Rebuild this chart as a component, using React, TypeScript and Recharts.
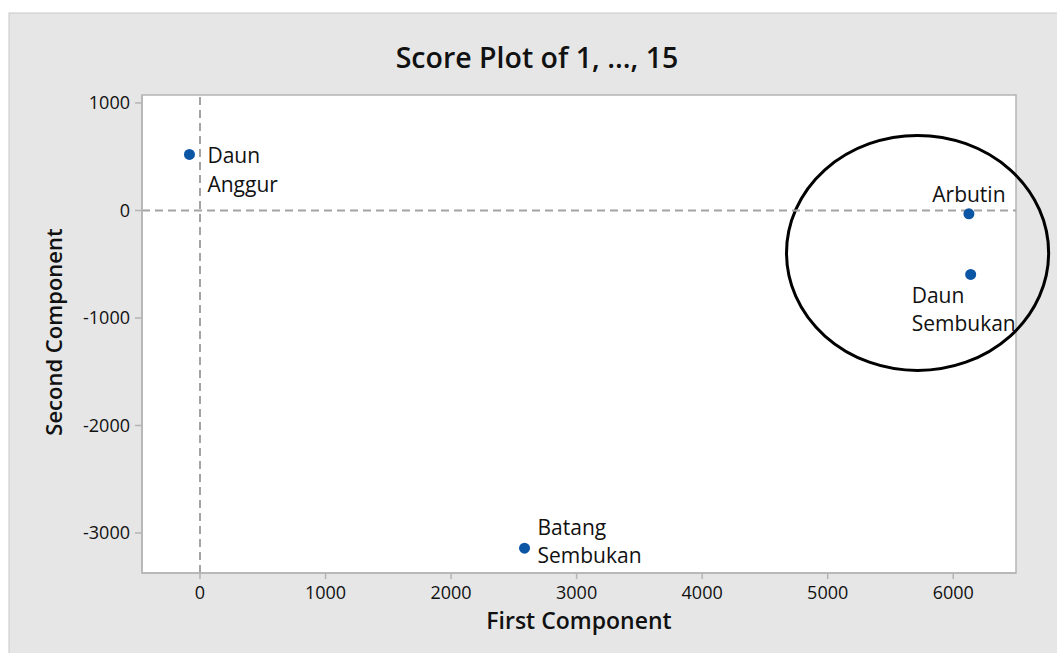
import React from 'react';
import {
  ScatterChart,
  Scatter,
  XAxis,
  YAxis,
  ReferenceLine,
  ReferenceArea,
  CartesianGrid,
} from 'recharts';

// ---- data ----
const sampleNames = ['Daun Anggur', 'Batang Sembukan', 'Arbutin', 'Daun Sembukan'];
const firstComponent = [-84, 2585, 6125, 6139];
const secondComponent = [521, -3141, -31, -595];

const xTicks = [0, 1000, 2000, 3000, 4000, 5000, 6000];
const yTicks = [-3000, -2000, -1000, 0, 1000];
const xDomain = [-462, 6500];
const yDomain = [-3372, 1074];

// highlighted cluster (data units): x range and y range of the ring
const ringX = [4672, 6760];
const ringY = [-1488, 698];

const chartTitle = 'Score Plot of 1, ..., 15';
const xTitle = 'First Component';
const yTitle = 'Second Component';

const scores = sampleNames.map((name, i) => ({
  name,
  x: firstComponent[i],
  y: secondComponent[i],
}));

// label placement (style only)
const labelStyle: Record<string, { dx: number; dy: number; lh: number; anchor: 'start' | 'middle' }> = {
  'Daun Anggur': { dx: 18, dy: 9, lh: 28.5, anchor: 'start' },
  'Batang Sembukan': { dx: 13, dy: -13, lh: 28, anchor: 'start' },
  Arbutin: { dx: 0, dy: -12, lh: 28, anchor: 'middle' },
  'Daun Sembukan': { dx: -59, dy: 29, lh: 28, anchor: 'start' },
};

const FONT = '"Open Sans", "Noto Sans", sans-serif';
const AXIS_GRAY = '#b4b4b4';

const PointShape = (props: any) => {
  const { cx, cy, payload } = props;
  const st = labelStyle[payload.name];
  const words = payload.name.split(' ');
  const lx = cx + st.dx;
  return (
    <g>
      <circle cx={cx} cy={cy} r={5.5} fill="#0b55a5" />
      <text
        x={lx}
        y={cy + st.dy}
        textAnchor={st.anchor}
        fontFamily={FONT}
        fontSize={21}
        fill="#111"
      >
        {words.map((w: string, i: number) => (
          <tspan key={i} x={lx} dy={i === 0 ? 0 : st.lh}>
            {w}
          </tspan>
        ))}
      </text>
    </g>
  );
};

const RingShape = (props: any) => {
  const { x, y, width, height } = props;
  return (
    <ellipse
      cx={x + width / 2}
      cy={y + height / 2}
      rx={Math.abs(width) / 2}
      ry={Math.abs(height) / 2}
      fill="none"
      stroke="#000"
      strokeWidth={3}
    />
  );
};

const FrameShape = (props: any) => {
  const { x, y, width, height } = props;
  return <rect x={x} y={y} width={width} height={height} fill="none" stroke={AXIS_GRAY} strokeWidth={1.5} />;
};

const YTitle = (props: any) => {
  const { viewBox } = props;
  const cy = viewBox.y + viewBox.height / 2 - 2;
  const bx = 62;
  return (
    <text
      x={bx}
      y={cy}
      transform={`rotate(-90, ${bx}, ${cy})`}
      textAnchor="middle"
      fontFamily={FONT}
      fontSize={22}
      fontWeight={600}
      fill="#111"
    >
      {yTitle}
    </text>
  );
};

const XTitle = (props: any) => {
  const { viewBox } = props;
  return (
    <text
      x={viewBox.x + viewBox.width / 2}
      y={629}
      textAnchor="middle"
      fontFamily={FONT}
      fontSize={23}
      fontWeight={600}
      fill="#111"
    >
      {xTitle}
    </text>
  );
};

const tickStyle = { fontFamily: FONT, fontSize: 18, fill: '#111', fontWeight: 500 };

export default function App() {
  return (
    <div style={{ position: 'absolute', left: 0, top: 0, width: 1057, height: 653, background: '#fff', overflow: 'hidden' }}>
      <svg width={1057} height={653} style={{ position: 'absolute', left: 0, top: 0 }}>
        <rect x={9} y={13} width={1060} height={660} fill="#e6e6e6" stroke="#c8c8c8" strokeWidth={1} />
        <text x={537} y={68} textAnchor="middle" fontFamily={FONT} fontSize={28.5} fontWeight={600} fill="#111">
          {chartTitle}
        </text>
      </svg>
      <div style={{ position: 'absolute', left: 0, top: 0 }}>
        <ScatterChart width={1057} height={653} margin={{ top: 95, right: 41, bottom: 0, left: 0 }}>
          <CartesianGrid fill="#fff" horizontal={false} vertical={false} />
          <ReferenceArea
            x1={xDomain[0]}
            x2={xDomain[1]}
            y1={yDomain[0]}
            y2={yDomain[1]}
            ifOverflow="visible"
            shape={<FrameShape />}
          />
          <XAxis
            type="number"
            dataKey="x"
            domain={xDomain}
            ticks={xTicks}
            allowDataOverflow
            height={80}
            tickSize={6}
            tickMargin={7}
            tick={tickStyle}
            stroke={AXIS_GRAY}
            strokeWidth={1.5}
            label={<XTitle />}
          />
          <YAxis
            type="number"
            dataKey="y"
            domain={yDomain}
            ticks={yTicks}
            allowDataOverflow
            width={142}
            tickSize={7}
            tickMargin={5}
            tick={tickStyle}
            stroke={AXIS_GRAY}
            strokeWidth={1.5}
            label={<YTitle />}
          />
          <ReferenceLine x={0} stroke="#a3a3a3" strokeWidth={2} strokeDasharray="8 5" />
          <ReferenceLine y={0} stroke="#a3a3a3" strokeWidth={2} strokeDasharray="8 5" />
          <Scatter data={scores} shape={<PointShape />} isAnimationActive={false} />
          <ReferenceArea
            x1={ringX[0]}
            x2={ringX[1]}
            y1={ringY[0]}
            y2={ringY[1]}
            ifOverflow="visible"
            shape={<RingShape />}
          />
        </ScatterChart>
      </div>
    </div>
  );
}
